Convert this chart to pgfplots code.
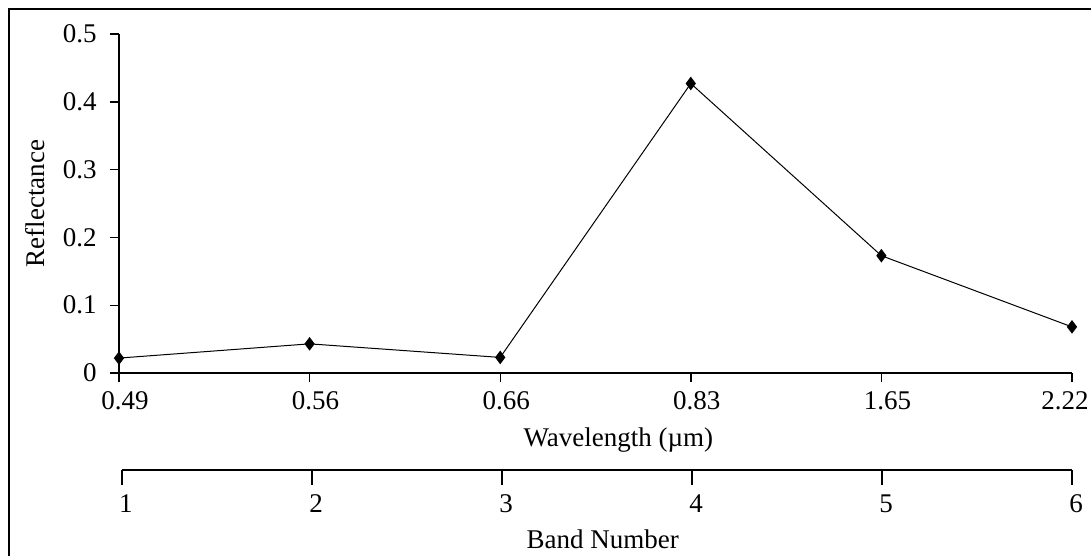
\documentclass[border=0pt]{standalone}
\usepackage{fontspec}
\setmainfont{Liberation Serif}
\usepackage{pgfplots}
\pgfplotsset{compat=1.18}
\begin{document}
\fontsize{13.5}{15.5}\selectfont
\begin{tikzpicture}
\path[use as bounding box] (-59.5pt,-91.5pt) rectangle (486pt,186.5pt);
\draw[line width=0.8pt] (-55pt,-91.5pt) -- (-55pt,182pt) -- (486pt,182pt);
\begin{axis}[
  at={(0,0)}, anchor=south west,
  scale only axis, width=476.5pt, height=169.5pt,
  xmin=0, xmax=5, ymin=0, ymax=0.5, clip=false,
  axis x line*=bottom, axis y line*=left,
  axis line style={line width=0.7pt, -},
  tick align=outside, major tick length=4.5pt,
  tick style={black, line width=0.7pt},
  xtick={0,1,2,3,4,5},
  xticklabels={0.49,0.56,0.66,0.83,1.65,\hspace*{-13pt}2.22},
  ytick={0,0.1,0.2,0.3,0.4,0.5},
  yticklabels={0,0.1,0.2,0.3,0.4,0.5},
  xticklabel style={xshift=3pt},
  yticklabel style={xshift=-2pt},
  xlabel={Wavelength (µm)},
  ylabel={Reflectance},
  xlabel style={at={(axis description cs:0.524,-0.198)}, anchor=center},
  ylabel style={at={(axis description cs:-0.088,0.5)}, anchor=center},
]
\addplot[black, line width=0.5pt, mark=diamond*, mark size=3pt, mark options={fill=black, solid}]
  coordinates {(0,0.022) (1,0.043) (2,0.023) (3,0.427) (4,0.173) (5,0.068)};
\end{axis}
\begin{axis}[
  at={(1.5pt,-48.5pt)}, anchor=south west,
  scale only axis, width=475pt, height=1pt,
  xmin=1, xmax=6, ymin=0, ymax=1, clip=false,
  axis x line*=bottom, hide y axis,
  axis line style={line width=0.7pt, -},
  tick align=outside, major tick length=7.5pt,
  tick style={black, line width=0.7pt},
  xtick={1,2,3,4,5,6},
  xticklabels={1,2,3,4,5,6},
  xticklabel style={xshift=2pt},
  xlabel={Band Number},
  xlabel style={at={(axis description cs:0.506,0)}, anchor=center, yshift=-34.5pt},
]
\addplot[draw=none] coordinates {(1,0)};
\end{axis}
\end{tikzpicture}
\end{document}
